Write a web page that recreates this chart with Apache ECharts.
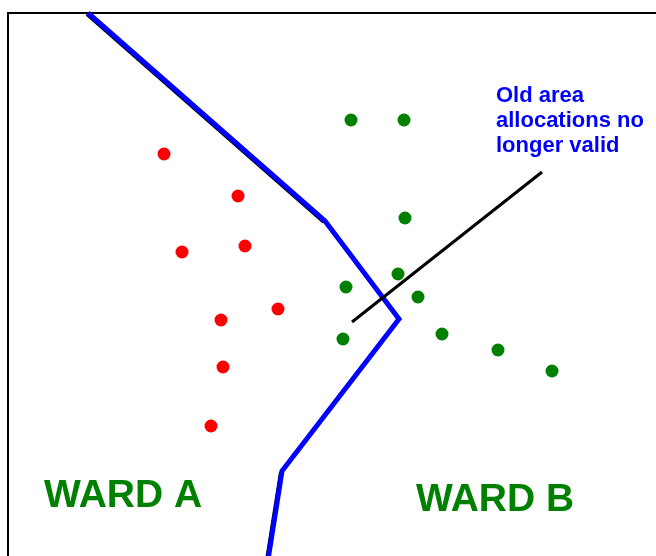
<!DOCTYPE html>
<html>
<head>
<meta charset="utf-8">
<script src="https://cdn.jsdelivr.net/npm/echarts@6/dist/echarts.min.js"></script>
<style>html,body{margin:0;padding:0;background:#fff;}#c{width:656px;height:556px;}</style>
</head>
<body>
<div id="c"></div>
<script>
// New ward boundary (blue), in picture units
const newBoundary = [[88, 13], [325, 221], [399, 319], [282, 471], [268, 560]];
// Old ward boundary pieces (black, mostly hidden under the blue)
const oldBoundaryTop = [[87, 14], [324, 222]];
const oldBoundaryBottom = [[281, 472], [267, 560]];
// Pointer from the note
const pointer = [[352, 322], [542, 172]];
// Ward A points (red)
const wardA = [[164, 154], [238, 196], [182, 252], [245, 246], [278, 309], [221, 320], [223, 367], [211, 426]];
// Ward B points (green)
const wardB = [[351, 120], [404, 120], [405, 218], [398, 274], [346, 287], [418, 297], [343, 339], [442, 334], [498, 350], [552, 371]];
const labelA = 'WARD A';
const labelB = 'WARD B';
const note = 'Old area\nallocations no\nlonger valid';

const chart = echarts.init(document.getElementById('c'));
chart.setOption({
  animation: false,
  backgroundColor: '#fff',
  grid: {left: 8, top: 13, right: 0, bottom: 0},
  xAxis: {type: 'value', min: 8, max: 656, position: 'top',
    axisLine: {show: true, lineStyle: {color: '#000', width: 2}},
    axisTick: {show: false}, axisLabel: {show: false}, splitLine: {show: false}},
  yAxis: {type: 'value', min: 13, max: 556, inverse: true,
    axisLine: {show: true, lineStyle: {color: '#000', width: 2}},
    axisTick: {show: false}, axisLabel: {show: false}, splitLine: {show: false}},
  series: [
    {type: 'line', data: oldBoundaryTop, symbol: 'none', lineStyle: {color: '#000', width: 4}, z: 2},
    {type: 'line', data: oldBoundaryBottom, symbol: 'none', lineStyle: {color: '#000', width: 4}, z: 2},
    {type: 'line', data: newBoundary, symbol: 'none', lineStyle: {color: '#0000ff', width: 5, join: 'miter'}, z: 3},
    {type: 'line', data: pointer, symbol: 'none', lineStyle: {color: '#000', width: 3}, z: 4},
    {type: 'scatter', data: wardA, symbol: 'circle', symbolSize: 13, itemStyle: {color: '#ff0000', opacity: 1}, z: 5},
    {type: 'scatter', data: wardB, symbol: 'circle', symbolSize: 13, itemStyle: {color: '#008000', opacity: 1}, z: 5}
  ],
  graphic: [
    {type: 'text', left: 44, top: 477, style: {text: labelA, fill: '#008000', font: 'bold 39px "Liberation Sans", Arial, sans-serif'}},
    {type: 'text', left: 416, top: 481, style: {text: labelB, fill: '#008000', font: 'bold 39px "Liberation Sans", Arial, sans-serif'}},
    {type: 'text', left: 496, top: 83, style: {text: note, fill: '#0000ff', font: 'bold 22px "Liberation Sans", Arial, sans-serif', lineHeight: 25}}
  ]
});
</script>
</body>
</html>
